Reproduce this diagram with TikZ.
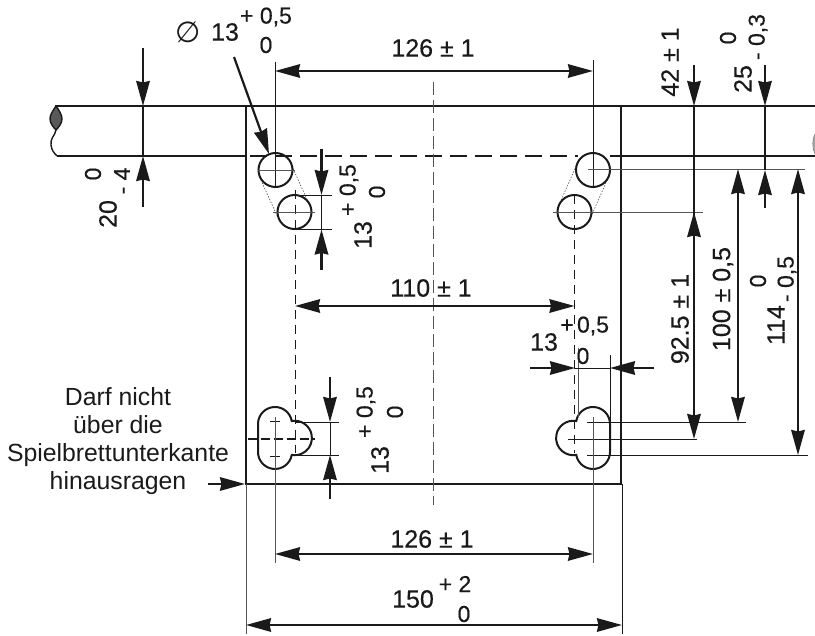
\documentclass[tikz,border=0pt]{standalone}
\usepackage{fontspec}
\setmainfont{Liberation Sans}
\newfontfamily\symfont{DejaVu Sans}
\newfontfamily\dimfont[FakeBold=0.35]{Liberation Sans}
\usetikzlibrary{arrows.meta}
\definecolor{ink}{HTML}{1A1A1A}
\definecolor{thingray}{HTML}{555555}
\tikzset{
  heavy/.style={draw=ink,line width=2.1pt},
  dimline/.style={draw=ink,line width=2.2pt,>={Stealth[length=25pt,width=13.5pt,inset=1.5pt,fill=ink]}},
  thinline/.style={draw=thingray,line width=0.9pt},
  darkthin/.style={draw=ink,line width=0.9pt},
  centreline/.style={draw=thingray,line width=0.8pt,dash pattern=on 13pt off 5pt},
  hidden/.style={draw=ink,line width=1pt,dash pattern=on 9pt off 6pt},
  hiddenthick/.style={draw=ink,line width=2pt,dash pattern=on 17pt off 8pt},
  tangent/.style={draw=thingray,line width=0.6pt,dash pattern=on 1.5pt off 1.5pt},
  hole/.style={draw=ink,line width=2pt},
  lab/.style={text=ink,inner sep=0pt,font=\dimfont\fontsize{25}{29}\selectfont},
  tol/.style={text=ink,inner sep=0pt,font=\dimfont\fontsize{23}{27}\selectfont},
}
\begin{document}
\begin{tikzpicture}[x=1pt,y=-1pt]
\useasboundingbox (0,0) rectangle (815,636);
% rod and plate
\draw[heavy] (55,106) -- (815,106);
\draw[heavy] (57,156) -- (246,156);
\draw[heavy] (610,156) -- (815,156);
\draw[hiddenthick] (250,156) -- (578,156);
\draw[heavy,line cap=rect] (246,106) -- (246,484) -- (621,484) -- (621,106);
% rod break, left and right
\draw[heavy,line width=1.4pt,fill=gray!70!black] (56,106) .. controls (52,112) and (50,115) .. (50,119) .. controls (50,123) and (53,127) .. (56,130) .. controls (59,127) and (62,123) .. (62,119) .. controls (62,115) and (59,110) .. (56,106);
\draw[heavy,line width=1.4pt] (56,130) .. controls (55,136) and (50,138) .. (51,145) .. controls (51.5,150) and (54,153) .. (57,156);
\draw[draw=gray,line width=0.6pt,fill=gray!70] (815,134) .. controls (812,139) and (812,148) .. (815,154);
% centre line
\draw[centreline] (433,82) -- (433,505);
% holes
\draw[tangent] (259.5,177) -- (278.5,219);
\draw[tangent] (290.5,163) -- (309.5,205);
\draw[tangent] (608.5,177) -- (590,219);
\draw[tangent] (577.5,163) -- (559,205);
\draw[hole] (275.5,170) circle[radius=17pt];
\draw[hole] (294.5,212) circle[radius=17pt];
\draw[hole] (593,170) circle[radius=17pt];
\draw[hole] (574.5,212) circle[radius=17pt];
% keyholes
\draw[hole] (258,452) -- (258,424) arc[start angle=180,end angle=10,radius=17pt]
  arc[start angle=100,end angle=-100,radius=17.2pt]
  arc[start angle=-10,end angle=-180,radius=17pt] -- cycle;
\draw[hole] (610,452) -- (610,424) arc[start angle=0,end angle=170,radius=17pt]
  arc[start angle=80,end angle=280,radius=17.2pt]
  arc[start angle=190,end angle=360,radius=17pt] -- cycle;
% hidden lines
\draw[hidden] (295,190) -- (295,453);
\draw[hidden] (574.5,195) -- (574.5,453);
\draw[draw=ink,line width=1.8pt,dash pattern=on 9pt off 4pt] (248,439) -- (315,439);
% extension lines
\draw[darkthin] (275,62) -- (275,187);
\draw[darkthin] (593,60) -- (593,187);
\draw[thinline] (258,170) -- (295,170);
\draw[thinline] (273,212) -- (315,212);
\draw[thinline] (553,212) -- (703,212);
\draw[thinline] (588,169) -- (805,169);
\draw[darkthin] (295,195) -- (332,195);
\draw[darkthin] (295,229.5) -- (332,229.5);
\draw[darkthin] (295,422) -- (339,422);
\draw[darkthin] (295,455) -- (339,455);
\draw[darkthin] (270,421) -- (280,421);
\draw[darkthin] (270,456) -- (280,456);
\draw[darkthin] (568,439) -- (697,439);
\draw[darkthin] (587,422) -- (746,422);
\draw[darkthin] (587,455) -- (808,455);
\draw[thinline] (275,417) -- (275,563);
\draw[thinline] (593,417) -- (593,563);
\draw[thinline] (246,484) -- (246,634);
\draw[darkthin] (622,484) -- (622,634);
\draw[thinline] (578,348) -- (578,417);
\draw[darkthin] (610,355) -- (610,440);
% dimension lines
\draw[dimline,<->] (275,71) -- (593,71);
\draw[dimline,<->] (295,306) -- (574.5,306);
\draw[dimline,<->] (275,554) -- (593,554);
\draw[dimline,<->] (246,625) -- (622,625);
\draw[dimline,->] (208,484) -- (245,484);
\draw[dimline,->] (530,368) -- (575,368);
\draw[dimline,->] (654,368) -- (610,368);
\draw[darkthin] (575,368) -- (610,368);
\draw[dimline,->] (143,48) -- (143,106);
\draw[dimline] (143,106) -- (143,156);
\draw[dimline,->] (143,207) -- (143,156);
\draw[dimline,->] (321.5,149) -- (321.5,195);
\draw[darkthin] (321.5,195) -- (321.5,229.5);
\draw[dimline,->] (321.5,270) -- (321.5,229.5);
\draw[dimline,->] (330,377) -- (330,422);
\draw[darkthin] (330,422) -- (330,455);
\draw[dimline,->] (330,499) -- (330,455);
\draw[dimline,->] (694,65) -- (694,106);
\draw[dimline] (694,106) -- (694,212);
\draw[dimline,->] (694,240) -- (694,212);
\draw[dimline,->] (694,212) -- (694,439);
\draw[dimline,<->] (738,169) -- (738,422);
\draw[dimline,->] (765,65) -- (765,106);
\draw[dimline] (765,106) -- (765,170);
\draw[dimline,->] (765,208) -- (765,170);
\draw[dimline,<->] (798,169) -- (798,455);
% leader to hole
\draw[dimline,->] (234,57) -- (269,154);
% labels
\node[inner sep=0pt,text=ink,font=\symfont\fontsize{29}{33}\selectfont] (phi) at (188,32) {∅};
\node[lab] (d13) at (225,32) {13};
\node[tol] (d13p) at (266,17) {+ 0,5};
\node[tol] (d13z) at (266,45) {0};
\node[lab] (top126) at (433,48) {126 ± 1};
\node[lab] (mid110) at (431,288) {110 ± 1};
\node[lab] (bot126) at (432,539) {126 ± 1};
\node[lab] (w150) at (413,599) {150};
\node[tol] (w150p) at (455,584) {+ 2};
\node[tol] (w150z) at (464,614) {0};
\node[lab,rotate=90] (rod20) at (108,214) {20};
\node[tol,rotate=90] (rod20z) at (93,174) {0};
\node[tol,rotate=90] (rod20m) at (122,181) {- 4};
\node[tol,rotate=90] (h13p) at (349,190) {+ 0,5};
\node[tol,rotate=90] (h13z) at (377,192) {0};
\node[lab,rotate=90] (h13) at (363,235) {13};
\node[tol,rotate=90] (k13p) at (366,412) {+ 0,5};
\node[tol,rotate=90] (k13z) at (395,412) {0};
\node[lab,rotate=90] (k13) at (380,460) {13};
\node[lab,rotate=90] (h42) at (670,62) {42 ± 1};
\node[lab,rotate=90] (h25) at (743,79) {25};
\node[tol,rotate=90] (h25z) at (728,38) {0};
\node[tol,rotate=90] (h25m) at (758,37) {- 0,3};
\node[lab,rotate=90] (h925) at (680,319) {92.5 ± 1};
\node[lab,rotate=90] (h100) at (723,299) {100 ± 0,5};
\node[lab,rotate=90] (h114) at (776,325) {114};
\node[tol,rotate=90] (h114z) at (758,281) {0};
\node[tol,rotate=90] (h114m) at (787,279) {- 0,5};
\node[lab] (s13) at (544,342) {13};
\node[tol] (s13p) at (567,326) {+};
\node[tol] (s13q) at (593,326) {0,5};
\node[tol] (s13z) at (583,356) {0};
\node[text=ink,inner sep=0pt,align=center,font=\fontsize{24.8}{28}\selectfont,anchor=center] (note) at (118,441) {Darf nicht\\über die\\Spielbrettunterkante\\hinausragen};
\end{tikzpicture}
\end{document}
